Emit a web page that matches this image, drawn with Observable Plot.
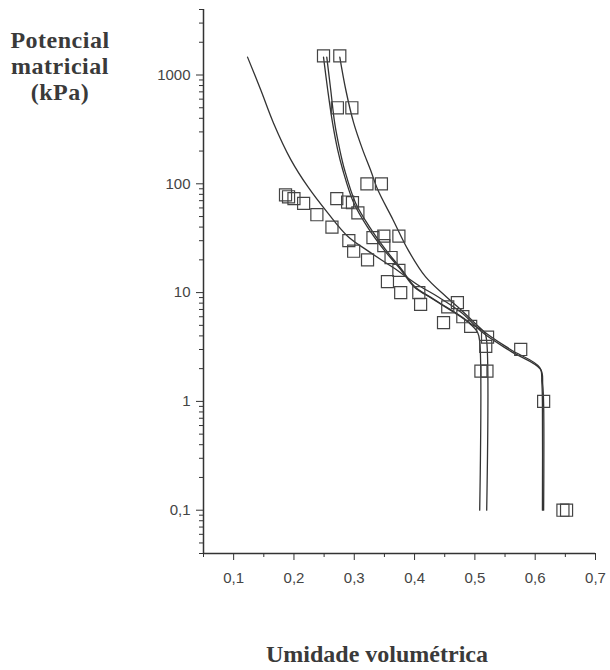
<!DOCTYPE html>
<html><head><meta charset="utf-8">
<script src="https://cdn.jsdelivr.net/npm/d3@7"></script>
<script src="https://cdn.jsdelivr.net/npm/@observablehq/plot@0.6"></script>
<style>
body{margin:0;background:#fff;}
#wrap{position:relative;width:610px;height:670px;overflow:hidden;}
#wrap svg{position:absolute;left:0;top:0;}
.lab{position:absolute;font-family:"Liberation Serif","Times New Roman",serif;font-weight:bold;font-size:24px;color:#3a3a3a;text-align:center;z-index:2;white-space:nowrap;}
</style></head><body>
<div id="wrap">
<div class="lab" style="left:0;top:27px;width:120px;line-height:26px;letter-spacing:0.5px;">Potencial<br>matricial<br>(kPa)</div>
<div class="lab" style="left:177px;top:642px;width:400px;line-height:24px;">Umidade volumétrica</div>
</div>
<script>
// Observed points (volumetric water content, matric potential kPa)
const sqTheta = [0.249,0.276,0.272,0.296,0.321,0.345,0.186,0.191,0.200,0.216,0.238,0.263,0.271,0.289,0.297,0.306,0.291,0.299,0.322,0.331,0.349,0.349,0.374,0.361,0.374,0.355,0.377,0.407,0.410,0.448,0.455,0.471,0.480,0.493,0.521,0.518,0.576,0.510,0.520,0.614,0.646,0.652];
const sqKPa   = [1500,1500,500,500,100,100,79,76,73,66,52,40,73,68,67,54,30,24,20,32,33,27,33,21,16,12.6,10,10,7.8,5.3,7.4,8.1,6.0,4.9,3.9,3.2,3.0,1.9,1.9,1,0.1,0.1];

// Fitted curves
const curveATheta = [0.123,0.145,0.166,0.195,0.223,0.256,0.289,0.322,0.365,0.405,0.438,0.477,0.515,0.559,0.609,0.6125,0.614,0.614];
const curveAKPa   = [1460,728,363,166,94,54,33,24.3,16.9,11.8,9.2,6.6,4.2,2.9,1.97,1.43,0.94,0.1];
const curveBTheta = [0.249,0.256,0.264,0.2725,0.281,0.299,0.322,0.349,0.377,0.3985,0.432,0.4765,0.493,0.5046,0.508,0.508];
const curveBKPa   = [1460,728,363,205,134,67,40,24.8,16.3,11.4,8.6,6.0,5.1,4.3,3.55,0.1];
const curveCTheta = [0.2544,0.261,0.2675,0.276,0.284,0.302,0.3255,0.352,0.3786,0.400,0.4333,0.478,0.495,0.516,0.5196,0.5196];
const curveCKPa   = [1460,728,363,205,134,67,40,24.8,16.3,11.4,8.6,6.0,5.1,4.3,3.55,0.1];
const curveDTheta = [0.276,0.286,0.299,0.314,0.327,0.339,0.364,0.389,0.418,0.452,0.4765,0.515,0.559,0.6075,0.611,0.612,0.612];
const curveDKPa   = [1460,728,363,205,134,88,47,24.8,14.0,9.2,7.0,4.4,3.0,2.05,1.49,0.94,0.1];

// Axis ticks
const xMajor = [0.1,0.2,0.3,0.4,0.5,0.6,0.7];
const xMinor = [0.05,0.15,0.25,0.35,0.45,0.55,0.65];
const yMajor = [0.1,1,10,100,1000];
const yMinor = [0.04,0.05,0.06,0.07,0.08,0.09,0.2,0.3,0.4,0.5,0.6,0.7,0.8,0.9,2,3,4,5,6,7,8,9,20,30,40,50,60,70,80,90,200,300,400,500,600,700,800,900,2000,3000,4000];

const rows = (th, k, id) => th.map((t, i) => ({theta: t, kPa: k[i], id}));
const curves = [
  ...rows(curveATheta, curveAKPa, "A"),
  ...rows(curveBTheta, curveBKPa, "B"),
  ...rows(curveCTheta, curveCKPa, "C"),
  ...rows(curveDTheta, curveDKPa, "D")
];
const pts = rows(sqTheta, sqKPa, "obs");
const fmt = d => String(d).replace(".", ",");

const chart = Plot.plot({
  width: 610, height: 670,
  marginLeft: 203, marginRight: 15, marginTop: 9, marginBottom: 117,
  style: {fontFamily: "'Liberation Sans', Arial, sans-serif", fontSize: "15px", color: "#444", background: "transparent"},
  x: {domain: [0.05, 0.7]},
  y: {type: "log", domain: [0.04, 4000]},
  marks: [
    Plot.ruleX([0.05], {stroke: "#333", strokeWidth: 1.5}),
    Plot.ruleY([0.04], {stroke: "#333", strokeWidth: 1.5}),
    Plot.axisX(xMajor, {tickSize: 7, tickPadding: 12, tickFormat: fmt, label: null, stroke: "#333"}),
    Plot.axisX(xMinor, {tickSize: 4, text: null, label: null, stroke: "#333"}),
    Plot.axisY(yMajor, {tickSize: 7, tickPadding: 6, tickFormat: fmt, label: null, stroke: "#333"}),
    Plot.axisY(yMinor, {tickSize: 4, text: null, label: null, stroke: "#333"}),
    Plot.line(curves, {x: "theta", y: "kPa", z: "id", curve: "catmull-rom", stroke: "#333", strokeWidth: 1.3}),
    Plot.dot(pts, {x: "theta", y: "kPa", symbol: "square", r: 6.8, stroke: "#444", fill: "none", strokeWidth: 1.2})
  ]
});
document.getElementById("wrap").appendChild(chart);
</script>
</body></html>
